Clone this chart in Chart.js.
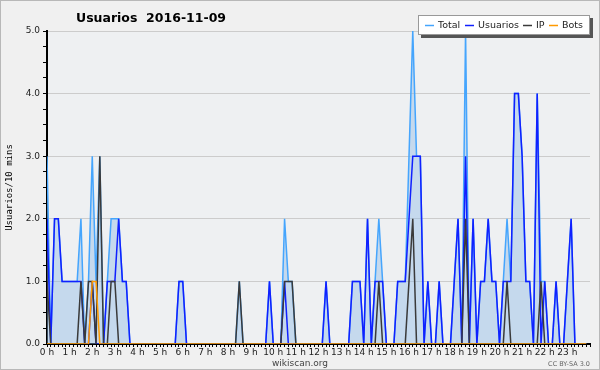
<!DOCTYPE html>
<html>
<head>
<meta charset="utf-8">
<script src="https://cdn.jsdelivr.net/npm/chart.js@4/dist/chart.umd.min.js"></script>
<style>
  html, body { margin: 0; padding: 0; background: #f0f0f0; }
  #chart { display: block; }
</style>
</head>
<body>
<canvas id="chart" width="600" height="370"></canvas>
<script>
// one value per 10 minutes, six per hour, 2016-11-09
const xTickLabels = ['0 h','1 h','2 h','3 h','4 h','5 h','6 h','7 h','8 h','9 h','10 h','11 h',
  '12 h','13 h','14 h','15 h','16 h','17 h','18 h','19 h','20 h','21 h','22 h','23 h'];
const yTickLabels = ['0.0','1.0','2.0','3.0','4.0','5.0'];

const total = [
  3,0,2,2,1,1,  1,1,1,2,0,1,  3,1,3,0,1,2,  2,2,1,1,0,0,
  0,0,0,0,0,0,  0,0,0,0,0,1,  1,0,0,0,0,0,  0,0,0,0,0,0,
  0,0,0,1,0,0,  0,0,0,0,0,1,  0,0,0,2,1,1,  0,0,0,0,0,0,
  0,0,1,0,0,0,  0,0,0,1,1,1,  0,2,0,1,2,1,  0,0,0,1,1,1,
  3,5,3,3,0,1,  0,0,1,0,0,0,  1,2,0,5,0,2,  0,1,1,2,1,1,
  0,1,2,1,4,4,  3,1,1,0,4,1,  1,0,0,1,0,0,  1,2,0,0,0,0
];
const usuarios = [
  2,0,2,2,1,1,  1,1,1,1,0,0,  1,0,0,0,1,1,  1,2,1,1,0,0,
  0,0,0,0,0,0,  0,0,0,0,0,1,  1,0,0,0,0,0,  0,0,0,0,0,0,
  0,0,0,0,0,0,  0,0,0,0,0,1,  0,0,0,1,0,0,  0,0,0,0,0,0,
  0,0,1,0,0,0,  0,0,0,1,1,1,  0,2,0,1,1,1,  0,0,0,1,1,1,
  2,3,3,3,0,1,  0,0,1,0,0,0,  1,2,0,3,0,2,  0,1,1,2,1,1,
  0,1,1,1,4,4,  3,1,1,0,4,0,  1,0,0,1,0,0,  1,2,0,0,0,0
];
const ip = [
  1,0,0,0,0,0,  0,0,0,1,0,1,  1,0,3,0,0,1,  1,0,0,0,0,0,
  0,0,0,0,0,0,  0,0,0,0,0,0,  0,0,0,0,0,0,  0,0,0,0,0,0,
  0,0,0,1,0,0,  0,0,0,0,0,0,  0,0,0,1,1,1,  0,0,0,0,0,0,
  0,0,0,0,0,0,  0,0,0,0,0,0,  0,0,0,0,1,0,  0,0,0,0,0,0,
  1,2,0,0,0,0,  0,0,0,0,0,0,  0,0,0,2,0,0,  0,0,0,0,0,0,
  0,0,1,0,0,0,  0,0,0,0,0,1,  0,0,0,0,0,0,  0,0,0,0,0,0
];
const bots = [
  0,0,0,0,0,0,  0,0,0,0,0,0,  1,1,0,0,0,0,  0,0,0,0,0,0,
  0,0,0,0,0,0,  0,0,0,0,0,0,  0,0,0,0,0,0,  0,0,0,0,0,0,
  0,0,0,0,0,0,  0,0,0,0,0,0,  0,0,0,0,0,0,  0,0,0,0,0,0,
  0,0,0,0,0,0,  0,0,0,0,0,0,  0,0,0,0,0,0,  0,0,0,0,0,0,
  0,0,0,0,0,0,  0,0,0,0,0,0,  0,0,0,0,0,0,  0,0,0,0,0,0,
  0,0,0,0,0,0,  0,0,0,0,0,0,  0,0,0,0,0,0,  0,0,0,0,0,0
];

const colTotal = '#45a5fd';
const colUsuarios = '#1020ff';
const colIp = '#3a3a3a';
const colBots = '#ff9a00';

function toPoints(arr) {
  return arr.map(function(v, i) { return {x: i, y: v}; });
}

const sans = '"DejaVu Sans", sans-serif';

// background, title, legend box and footer text
const decor = {
  id: 'decor',
  beforeDraw(chart) {
    const ctx = chart.ctx, a = chart.chartArea;
    ctx.save();
    ctx.fillStyle = '#f0f0f0';
    ctx.fillRect(0, 0, chart.width, chart.height);
    ctx.fillStyle = '#eef0f2';
    ctx.fillRect(a.left, a.top, a.right - a.left, a.bottom - a.top);
    ctx.restore();
  },
  afterDraw(chart) {
    const ctx = chart.ctx;
    ctx.save();
    // title
    ctx.fillStyle = '#000';
    ctx.font = 'bold 12.5px ' + sans;
    ctx.textBaseline = 'alphabetic';
    ctx.textAlign = 'left';
    ctx.fillText('Usuarios  2016-11-09', 76, 22);

    // legend
    const bx = 418, by = 15, bw = 172, bh = 20;
    ctx.fillStyle = '#555';
    ctx.fillRect(bx + 3, by + 3, bw, bh);
    ctx.fillStyle = '#fff';
    ctx.fillRect(bx, by, bw, bh);
    ctx.strokeStyle = '#999';
    ctx.lineWidth = 1;
    ctx.strokeRect(bx + 0.5, by + 0.5, bw - 1, bh - 1);
    const items = [
      {label: 'Total', color: colTotal, x: 7},
      {label: 'Usuarios', color: colUsuarios, x: 47},
      {label: 'IP', color: colIp, x: 105},
      {label: 'Bots', color: colBots, x: 131}
    ];
    ctx.font = '9.5px ' + sans;
    ctx.textBaseline = 'middle';
    items.forEach(function(it) {
      ctx.strokeStyle = it.color;
      ctx.lineWidth = 1.5;
      ctx.beginPath();
      ctx.moveTo(bx + it.x, by + 10.5);
      ctx.lineTo(bx + it.x + 9, by + 10.5);
      ctx.stroke();
      ctx.fillStyle = '#222';
      ctx.fillText(it.label, bx + it.x + 13, by + 11);
    });

    // footer
    ctx.fillStyle = '#444';
    ctx.font = '9px ' + sans;
    ctx.textAlign = 'center';
    ctx.textBaseline = 'alphabetic';
    ctx.fillText('wikiscan.org', 300, 366);
    ctx.fillStyle = '#666';
    ctx.font = '6.5px ' + sans;
    ctx.textAlign = 'right';
    ctx.fillText('CC BY-SA 3.0', 590, 366);

    // frame
    ctx.strokeStyle = '#b8b8b8';
    ctx.lineWidth = 1;
    ctx.strokeRect(0.5, 0.5, chart.width - 1, chart.height - 1);
    ctx.restore();
  }
};

const ctx = document.getElementById('chart').getContext('2d');
const myChart = new Chart(ctx, {
  type: 'line',
  data: {
    datasets: [{
      label: 'Total',
      data: toPoints(total),
      borderColor: colTotal,
      backgroundColor: 'rgba(140,185,230,0.42)',
      fill: 'origin',
      order: 4
    }, {
      label: 'Usuarios',
      data: toPoints(usuarios),
      borderColor: colUsuarios,
      fill: false,
      order: 3
    }, {
      label: 'IP',
      data: toPoints(ip),
      borderColor: colIp,
      fill: false,
      order: 2
    }, {
      label: 'Bots',
      data: toPoints(bots),
      borderColor: colBots,
      fill: false,
      order: 1
    }]
  },
  options: {
    responsive: false,
    animation: false,
    events: [],
    layout: { padding: { top: 31, right: 10, bottom: 0, left: 0 } },
    elements: {
      point: { radius: 0 },
      line: { borderWidth: 1.5, tension: 0 }
    },
    plugins: {
      legend: { display: false },
      title: { display: false },
      tooltip: { enabled: false }
    },
    scales: {
      x: {
        type: 'linear',
        min: 0,
        max: 144,
        z: 1,
        afterFit: function(scale) { scale.height = 26; },
        border: { color: '#000', width: 2 },
        grid: { drawOnChartArea: false, color: '#000', tickLength: 3 },
        ticks: {
          stepSize: 1,
          maxTicksLimit: 1000,
          autoSkip: false,
          maxRotation: 0,
          minRotation: 0,
          padding: 0,
          color: '#222',
          font: { family: sans, size: 9 },
          callback: function(v) { return (v % 6 === 0 && v < 144) ? xTickLabels[v / 6] : ''; }
        }
      },
      y: {
        min: 0,
        max: 5,
        z: 1,
        afterFit: function(scale) { scale.width = 47; },
        border: { color: '#000', width: 2 },
        grid: {
          color: function(c) { return (c.tick && Number.isInteger(c.tick.value)) ? '#cccccc' : 'rgba(0,0,0,0)'; },
          tickColor: '#000',
          tickLength: 4
        },
        ticks: {
          stepSize: 0.25,
          maxTicksLimit: 100,
          padding: 3,
          color: '#222',
          font: { family: sans, size: 9 },
          callback: function(v) { return Number.isInteger(v) ? yTickLabels[v] : ''; }
        },
        title: {
          display: true,
          text: 'Usuarios/10 mins',
          color: '#000',
          font: { family: '"DejaVu Sans Mono", monospace', size: 9 },
          padding: { top: 4, bottom: 0 }
        }
      }
    }
  },
  plugins: [decor]
});
</script>
</body>
</html>
